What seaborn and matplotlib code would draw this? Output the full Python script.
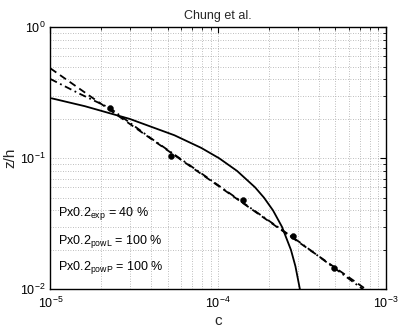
import matplotlib
matplotlib.use("Agg")
import matplotlib.pyplot as plt
import seaborn as sns
import pandas as pd
from matplotlib.ticker import LogLocator, NullFormatter

# Measured concentration profile (c vs relative height z/h)
meas_c = [2.26e-5, 5.26e-5, 1.40e-4, 2.80e-4, 4.92e-4]
meas_z = [0.240, 0.105, 0.0477, 0.0255, 0.01445]

# Exponential fit
exp_c = [1.017e-5, 1.603e-5, 2.964e-5, 5.48e-5, 7.93e-5, 1.014e-4, 1.297e-4,
         1.659e-4, 1.876e-4, 2.122e-4, 2.399e-4, 2.713e-4, 2.885e-4, 3.069e-4]
exp_z = [0.287, 0.25, 0.2, 0.15, 0.12, 0.1, 0.08,
         0.06, 0.05, 0.04, 0.03, 0.02, 0.015, 0.01]

# Power-law fit (L)
powL_c = [1.0e-5, 7.6e-4]
powL_z = [0.486, 0.01]

# Power-law fit (P)
powP_c = [1.0e-5, 1.50e-5, 2.26e-5, 3.92e-5, 7.79e-5, 1.545e-4, 3.07e-4, 7.29e-4]
powP_z = [0.403, 0.310, 0.242, 0.144, 0.078, 0.0421, 0.0228, 0.01]

labels = ["Px0.2$_{\\mathrm{exp}}$ = 40 %",
          "Px0.2$_{\\mathrm{powL}}$ = 100 %",
          "Px0.2$_{\\mathrm{powP}}$ = 100 %"]

sns.set_style("white")
plt.rcParams["font.family"] = ["Liberation Sans", "DejaVu Sans"]
plt.rcParams["mathtext.fontset"] = "custom"
plt.rcParams["mathtext.rm"] = "Liberation Sans"
plt.rcParams["mathtext.it"] = "Liberation Sans:italic"

fig = plt.figure(figsize=(4.0, 3.29), dpi=100)
ax = fig.add_axes([0.126, 0.1207, 0.839, 0.7963])
ax.set_xscale("log")
ax.set_yscale("log")

sns.lineplot(data=pd.DataFrame({"c": exp_c, "z": exp_z}), x="c", y="z",
             sort=False, ax=ax, color="black", lw=1.3, linestyle="-")
sns.lineplot(data=pd.DataFrame({"c": powL_c, "z": powL_z}), x="c", y="z",
             sort=False, ax=ax, color="black", lw=1.3, linestyle=(0, (4, 2.5)))
sns.lineplot(data=pd.DataFrame({"c": powP_c, "z": powP_z}), x="c", y="z",
             sort=False, ax=ax, color="black", lw=1.3, linestyle=(0, (4, 2, 1, 2)))
sns.scatterplot(data=pd.DataFrame({"c": meas_c, "z": meas_z}), x="c", y="z",
                ax=ax, color="black", s=18, edgecolor="black", zorder=5)

ax.set_xlim(1e-5, 1e-3)
ax.set_ylim(1e-2, 1e0)

ax.xaxis.set_major_locator(LogLocator(base=10, numticks=10))
ax.yaxis.set_major_locator(LogLocator(base=10, numticks=10))
ax.xaxis.set_minor_locator(LogLocator(base=10, subs=range(2, 10), numticks=20))
ax.yaxis.set_minor_locator(LogLocator(base=10, subs=range(2, 10), numticks=20))
ax.xaxis.set_minor_formatter(NullFormatter())
ax.yaxis.set_minor_formatter(NullFormatter())

ax.grid(True, which="both", color="#a8a8a8", linestyle=(0, (1, 2)), linewidth=0.6)
ax.tick_params(which="both", direction="in", top=True, right=True, colors="black",
               labelsize=9)
ax.tick_params(which="major", length=4, width=0.8)
ax.tick_params(which="minor", length=2, width=0.6)
ax.tick_params(axis="x", pad=5)
for sp in ax.spines.values():
    sp.set_color("black")
    sp.set_linewidth(1.0)

ax.set_xlabel("c", fontsize=11, labelpad=2)
ax.set_ylabel("z/h", fontsize=11, labelpad=2)
ax.set_title("Chung et al.", fontsize=9, pad=6)

for lab, yy in zip(labels, [0.291, 0.184, 0.085]):
    ax.text(0.022, yy, lab, transform=ax.transAxes, fontsize=9,
            va="center", ha="left", color="black")

fig.savefig("out.png", dpi=100)
